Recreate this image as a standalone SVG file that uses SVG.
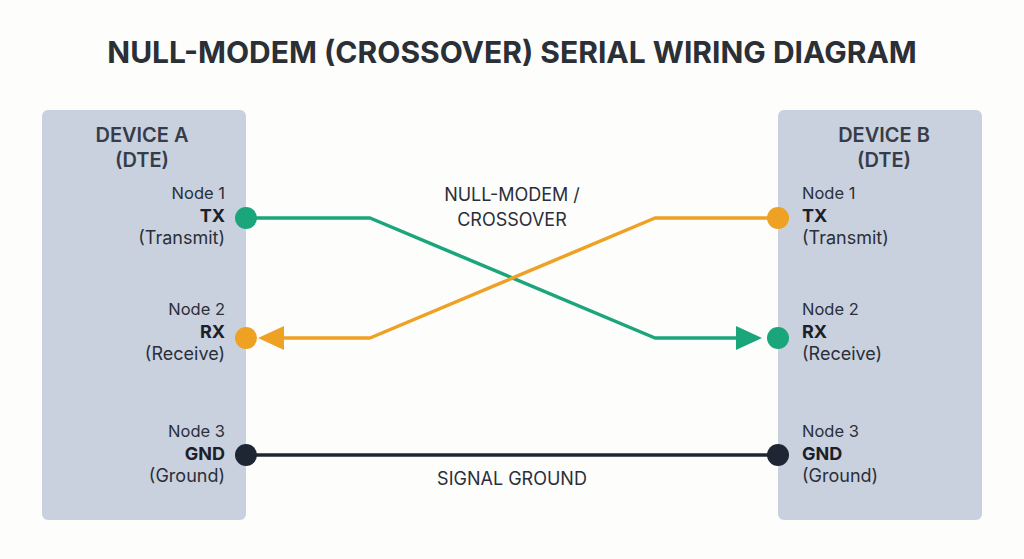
<svg xmlns="http://www.w3.org/2000/svg" width="1024" height="559" viewBox="0 0 1024 559">
<style>
text{font-family:Inter,"Noto Sans",sans-serif;fill:#2a2f3a}
.t{font-size:30px;font-weight:700;fill:#2b2f36}
.h{font-size:20px;font-weight:600;fill:#363c48}
.n{font-size:16.5px}
.b{font-size:18px;font-weight:700;fill:#1c2028}
.s{font-size:18px}
.box{fill:#c9d1de}
</style>
<rect width="1024" height="559" fill="#fdfdfc"/>
<text class="t" x="512" y="63" text-anchor="middle">NULL-MODEM (CROSSOVER) SERIAL WIRING DIAGRAM</text>
<g id="deviceA">
<rect class="box" x="42" y="110" width="204" height="410" rx="6"/>
<text class="h" x="142" y="142" text-anchor="middle">DEVICE A</text>
<text class="h" x="142" y="167" text-anchor="middle">(DTE)</text>
<g text-anchor="end">
<text class="n" x="225" y="199">Node 1</text><text class="b" x="225" y="222">TX</text><text class="s" x="225" y="244">(Transmit)</text>
<text class="n" x="225" y="315">Node 2</text><text class="b" x="225" y="338">RX</text><text class="s" x="225" y="360">(Receive)</text>
<text class="n" x="225" y="437">Node 3</text><text class="b" x="225" y="460">GND</text><text class="s" x="225" y="482">(Ground)</text>
</g>
</g>
<g id="deviceB">
<rect class="box" x="778" y="110" width="204" height="410" rx="6"/>
<text class="h" x="884" y="142" text-anchor="middle">DEVICE B</text>
<text class="h" x="884" y="167" text-anchor="middle">(DTE)</text>
<text class="n" x="802" y="199">Node 1</text><text class="b" x="802" y="222">TX</text><text class="s" x="802" y="244">(Transmit)</text>
<text class="n" x="802" y="315">Node 2</text><text class="b" x="802" y="338">RX</text><text class="s" x="802" y="360">(Receive)</text>
<text class="n" x="802" y="437">Node 3</text><text class="b" x="802" y="460">GND</text><text class="s" x="802" y="482">(Ground)</text>
</g>
<g id="connectors" fill="none" stroke-width="3.5" stroke-linejoin="round">
<path d="M246,218H370L655,338H740" stroke="#1aa57a"/>
<path d="M762,338L736,326V350z" fill="#1aa57a" stroke="none"/>
<path d="M778,218H655L370,338H280" stroke="#eea122"/>
<path d="M258,338L284,326V350z" fill="#eea122" stroke="none"/>
<path d="M246,455H778" stroke="#1f2633"/>
<text x="512" y="201" text-anchor="middle" class="s" stroke="none">NULL-MODEM /</text>
<text x="512" y="226" text-anchor="middle" class="s" stroke="none">CROSSOVER</text>
<text x="512" y="485" text-anchor="middle" class="s" stroke="none">SIGNAL GROUND</text>
</g>
<g id="pins">
<circle cx="246" cy="218" r="11" fill="#1aa57a"/>
<circle cx="246" cy="338" r="11" fill="#eea122"/>
<circle cx="246" cy="455" r="11" fill="#1f2633"/>
<circle cx="778" cy="218" r="11" fill="#eea122"/>
<circle cx="778" cy="338" r="11" fill="#1aa57a"/>
<circle cx="778" cy="455" r="11" fill="#1f2633"/>
</g>
</svg>
